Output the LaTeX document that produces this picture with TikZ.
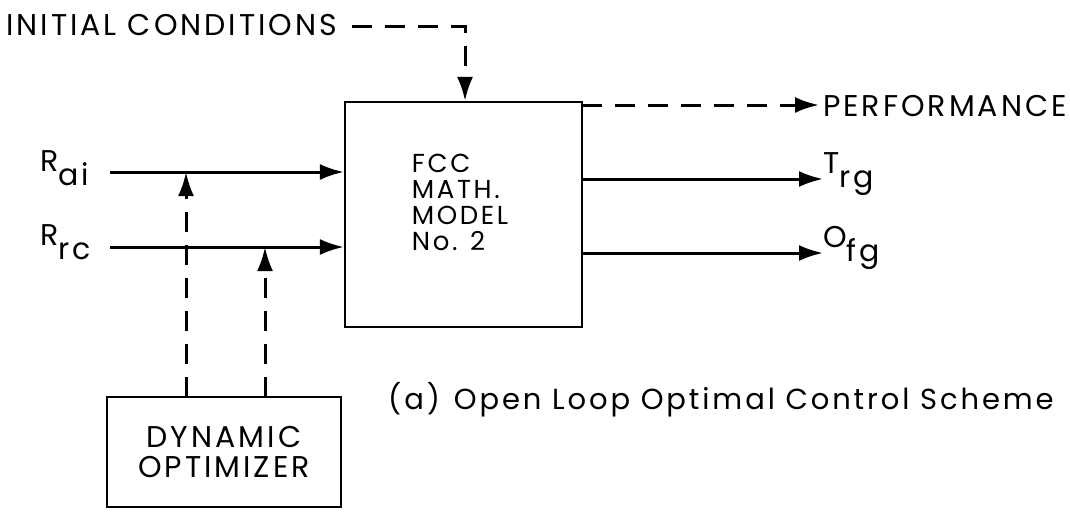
\documentclass[tikz,border=0pt]{standalone}
\usepackage{fontspec}
\setmainfont{Poppins}[LetterSpace=10]
\usetikzlibrary{arrows.meta}
\tikzset{
  box/.style={draw, line width=2.2pt, inner sep=0pt},
  sig/.style={line width=3pt, -{Latex[length=24pt,width=16pt]}},
  dsig/.style={sig, dash pattern=on 20pt off 13pt},
  lbl/.style={inner sep=0pt, font=\fontsize{30}{34}\selectfont},
}
\newcommand{\sublbl}[2]{#1\raisebox{-14pt}{#2}}
\begin{document}
\begin{tikzpicture}[x=1pt,y=-1pt]
\useasboundingbox (0,0) rectangle (1070,511);
% main box
\node[box, minimum width=237pt, minimum height=225pt] (fcc) at (463.5,214.5) {};
\node[lbl, align=left, font=\fontsize{26}{26}\selectfont] (fcctxt) at (460,202) {FCC\\MATH.\\MODEL\\No. 2};
% dynamic optimizer
\node[box, minimum width=234pt, minimum height=110pt, align=center,
      font=\fontsize{30}{30}\selectfont] (dyn) at (224,452) {DYNAMIC\\OPTIMIZER};
% labels
\node[lbl, anchor=west] (ic) at (6,25) {INITIAL CONDITIONS};
\node[lbl, anchor=west] (perf) at (823,106) {PERFORMANCE};
\node[lbl, anchor=west] (trg) at (823,174) {\sublbl{T}{rg}};
\node[lbl, anchor=west] (ofg) at (823,248) {\sublbl{O}{fg}};
\node[lbl, anchor=west] (rai) at (40,168) {\sublbl{R}{ai}};
\node[lbl, anchor=west] (rrc) at (40,242) {\sublbl{R}{rc}};
\node[lbl, anchor=west, font=\fontsize{29}{30}\selectfont] (cap) at (388,400)
  {(a)\hspace{14pt}Open Loop Optimal Control Scheme};
% coordinates
\coordinate (icA) at (352,27);
\coordinate (icB) at (465,27);
\coordinate (aiS) at (110,172);
\coordinate (rcS) at (110,247);
\coordinate (trS) at (582,179);
\coordinate (ofS) at (582,253);
\coordinate (pfS) at (582,105);
\coordinate (d1) at (186,397);
\coordinate (d2) at (265,397);
% inputs
\draw[sig] (aiS) -- (aiS -| fcc.west);
\draw[sig] (rcS) -- (rcS -| fcc.west);
% outputs
\draw[sig] (trS) -- (trS -| trg.west);
\draw[sig] (ofS) -- (ofS -| ofg.west);
\draw[dsig] (pfS) -- ([xshift=-4pt]pfS -| perf.west);
% initial conditions
\draw[dsig] (icA) -- (icB) -- (icB |- fcc.north);
% optimizer controls
\draw[dsig] (d1) -- (d1 |- aiS);
\draw[dsig] (d2) -- (d2 |- rcS);
\end{tikzpicture}
\end{document}
